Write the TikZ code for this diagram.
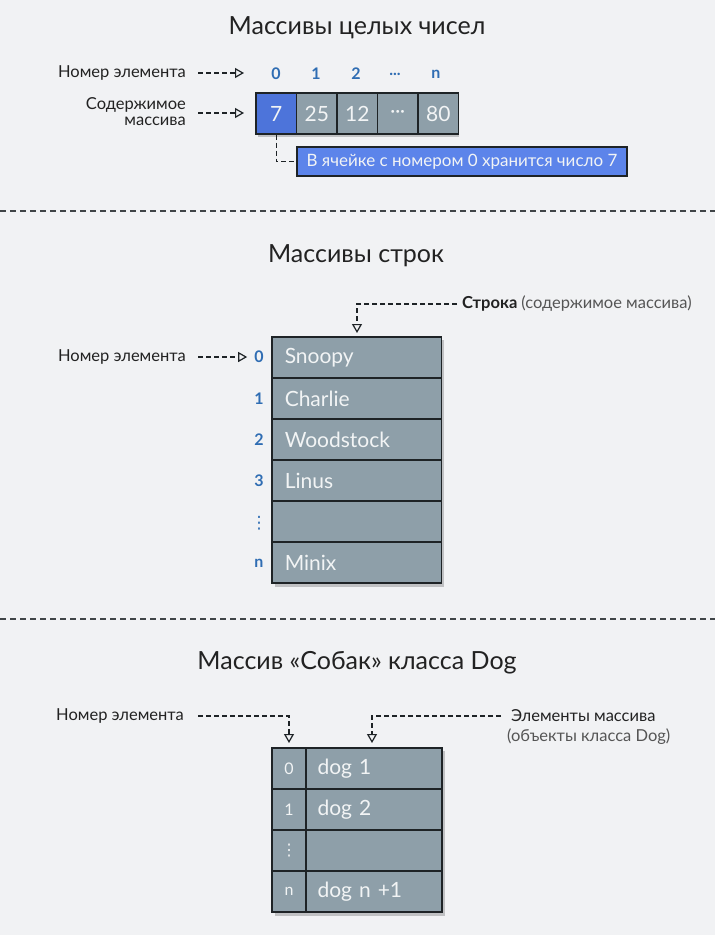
\documentclass[tikz,border=0pt]{standalone}
\usepackage{fontspec}
\setmainfont{Lato}
\newfontfamily\djv{DejaVu Sans}
\usetikzlibrary{arrows.meta}
\definecolor{bg}{HTML}{F1F2F4}
\definecolor{cellgray}{HTML}{8E9FA9}
\definecolor{edge}{HTML}{1E2326}
\definecolor{idxblue}{HTML}{2F6DB3}
\definecolor{cellblue}{HTML}{4D74DA}
\definecolor{noteblue}{HTML}{5C84EA}
\definecolor{txt}{HTML}{222222}
\definecolor{lighttxt}{HTML}{555555}
\definecolor{celltxt}{HTML}{F2F4F5}
\tikzset{
  dasharrow/.style={draw=edge, line width=1.3pt, dash pattern=on 5pt off 3pt,
    -{Triangle[open, length=9pt, width=10pt, line width=1.2pt]}},
  dashline/.style={draw=edge, line width=1.3pt, dash pattern=on 5pt off 3pt},
  sep/.style={draw=edge!85, line width=1.4pt, dash pattern=on 6pt off 4pt},
  title/.style={font=\fontsize{25}{30}\selectfont, text=txt},
  lbl/.style={font=\fontsize{16.5}{18}\selectfont, text=txt, inner sep=0pt},
  idx/.style={font=\fontsize{16}{18}\selectfont\bfseries, text=idxblue, inner sep=0pt},
  cellbox/.style={draw=edge, fill=cellgray, line width=1.3pt, inner sep=0pt,
    text=celltxt, font=\fontsize{21}{24}\selectfont},
}
\begin{document}
\begin{tikzpicture}[x=1pt,y=-1pt]
\fill[bg] (0,0) rectangle (715,935);
\useasboundingbox (0,0) rectangle (715,935);

% ===== Section 1 =====
\node[title] (t1) at (357,28) {Массивы целых чисел};
\node[lbl, anchor=east] (l1) at (186,73) {Номер элемента};
\node[lbl, anchor=east, align=right, font=\fontsize{16.5}{16}\selectfont] (l2) at (186,112) {Содержимое\\массива};
\coordinate (a1) at (244,73);
\coordinate (a2) at (244,113);
\draw[dasharrow] ([xshift=12pt]l1.east) -- (a1);
\draw[dasharrow] ([xshift=12pt]l2.east |- a2) -- (a2);

\fill[black, opacity=0.2] (258,96) rectangle (459,137);
\node[cellbox, fill=cellblue, minimum width=40.5pt, minimum height=41pt] (c0) at (276.25,113.5) {7};
\node[cellbox, minimum width=40.5pt, minimum height=41pt] (c1) at (316.75,113.5) {25};
\node[cellbox, minimum width=40.5pt, minimum height=41pt] (c2) at (357.25,113.5) {12};
\node[cellbox, minimum width=40.5pt, minimum height=41pt, font=\fontsize{19}{20}\selectfont] (c3) at (397.75,113.5) {···};
\node[cellbox, minimum width=40.5pt, minimum height=41pt] (c4) at (438.25,113.5) {80};
\node[idx] (i0) at (276,74) {0};
\node[idx] (i1) at (316,74) {1};
\node[idx] (i2) at (356,74) {2};
\node[idx] (i3) at (395,74) {...};
\node[idx] (i4) at (436,74) {n};

\node[draw=edge, fill=noteblue, line width=1.3pt, minimum width=330pt, minimum height=29pt,
  inner sep=0pt, text=celltxt, font=\fontsize{17}{19}\selectfont] (note) at (462,161.5)
  {В ячейке с номером 0 хранится число 7};
\draw[dashline] (c0.south) |- (note.west);

\draw[sep] (0,211) -- (715,211);

% ===== Section 2 =====
\node[title] (t2) at (356,256) {Массивы строк};
\node[lbl, anchor=west] (s1) at (462,304) {\bfseries Строка \mdseries\color{lighttxt}(содержимое массива)};
\coordinate (s1a) at (357,304);
\coordinate (s1b) at (357,333);
\draw[dasharrow] ([xshift=-5pt]s1.west) -- (s1a) -- (s1b);

\fill[black, opacity=0.2] (275,340) rectangle (444,587);
\foreach \i/\t [count=\k from 0] in {0/Snoopy,1/Charlie,2/Woodstock,3/Linus,4/,5/Minix}{
  \node[cellbox, minimum width=169.5pt, minimum height=41pt, text width=144pt, align=left]
    (r\i) at (356.75,357.5+41*\k) {\t};
}
\node[idx] (j0) at (259,357) {0};
\node[idx] (j1) at (259,399) {1};
\node[idx] (j2) at (259,440) {2};
\node[idx] (j3) at (259,481) {3};
\node[idx, font=\djv\fontsize{17}{18}\selectfont] (j4) at (259,523) {⋮};
\node[idx] (j5) at (259,563) {n};
\node[lbl, anchor=east] (l3) at (186,357) {Номер элемента};
\draw[dasharrow] ([xshift=12pt]l3.east) -- ([xshift=-7pt]j0.west);

\draw[sep] (0,619) -- (715,619);

% ===== Section 3 =====
\node[title] (t3) at (357,663) {Массив «Собак» класса Dog};
\node[lbl, anchor=west] (d1) at (56,716) {Номер элемента};
\node[lbl, anchor=west] (d2) at (511,716) {Элементы массива};
\node[lbl, anchor=west, text=lighttxt] (d3) at (507,737) {(объекты класса Dog)};
\coordinate (p1) at (289,716);
\coordinate (p2) at (289,743);
\coordinate (q1) at (372,716);
\coordinate (q2) at (372,743);
\draw[dasharrow] ([xshift=14pt]d1.east) -- (p1) -- (p2);
\draw[dasharrow] ([xshift=-10pt]d2.west) -- (q1) -- (q2);

\fill[black, opacity=0.2] (275,751) rectangle (445,916);
\foreach \i/\n/\t [count=\k from 0] in {0/0/dog 1,1/1/dog 2,2/{\djv\fontsize{16}{17}\selectfont ⋮}/,3/n/dog n +1}{
  \node[cellbox, minimum width=34pt, minimum height=41pt, font=\fontsize{16}{18}\selectfont]
    (n\i) at (289,768.5+41*\k) {\n};
  \node[cellbox, minimum width=136pt, minimum height=41pt, text width=113pt, align=left]
    (e\i) at (374,768.5+41*\k) {\t};
}
\end{tikzpicture}
\end{document}
